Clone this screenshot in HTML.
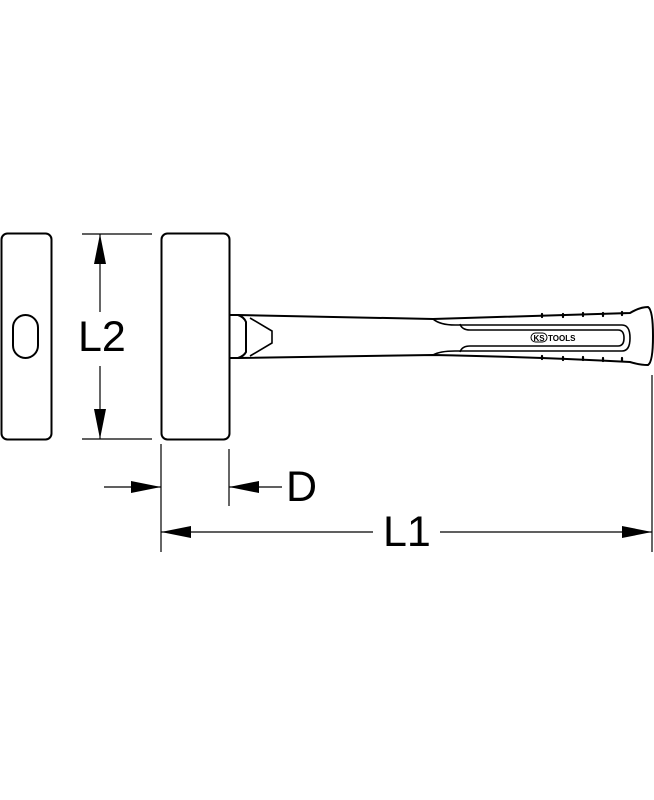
<!DOCTYPE html>
<html><head><style>html,body{margin:0;padding:0;background:#fff;}svg{display:block}</style></head>
<body>
<svg width="654" height="800" viewBox="0 0 654 800" xmlns="http://www.w3.org/2000/svg">
<g fill="none" stroke="#000" stroke-width="2">
<rect x="1.5" y="233.5" width="50" height="206" rx="6"/>
<rect x="13" y="315" width="25" height="43" rx="12.5"/>
<rect x="161.5" y="233.5" width="68" height="206" rx="6"/>
<!-- handle -->
<path d="M230,315 L238,315 Q244,317 246,322 L246,352 Q244,356 238,358 L230,358"/>
<path d="M238,315 L433,319 Q540,316 630,313 Q640,307 648,307 Q653,310 653,336 Q653,362 648,365 Q640,365 630,362 Q540,357 433,355 L238,358"/>
<path d="M250,318 L272,331 L272,343 L250,356" stroke-width="1.6"/>
<path d="M433,319 Q440,325 455,325 L622,325 Q630,325 630,338 Q630,351 622,351 L455,351 Q440,351 433,355" stroke-width="1.6"/>
<path d="M460,324 Q462,330 470,330 L618,330 Q624,330 624,338 Q624,346 618,346 L470,346 Q462,346 460,352" stroke-width="1.6"/>
</g>
<g stroke="#000" stroke-width="2.2" stroke-linecap="round">
<line x1="542" y1="314" x2="542" y2="317"/><line x1="563" y1="314" x2="563" y2="317"/><line x1="583" y1="313" x2="583" y2="316"/><line x1="603" y1="313" x2="603" y2="316"/><line x1="622" y1="312" x2="622" y2="315"/>
<line x1="542" y1="356" x2="542" y2="359"/><line x1="563" y1="357" x2="563" y2="360"/><line x1="583" y1="357" x2="583" y2="360"/><line x1="603" y1="358" x2="603" y2="361"/><line x1="622" y1="358" x2="622" y2="361"/>
</g>
<rect x="531" y="333" width="16" height="9" rx="4.5" fill="none" stroke="#000" stroke-width="1"/>
<text x="539" y="341" font-family="Liberation Sans, sans-serif" font-size="8" font-weight="bold" text-anchor="middle">KS</text>
<text x="548" y="341" font-family="Liberation Sans, sans-serif" font-size="8" font-weight="bold">TOOLS</text>
<!-- dimensions -->
<g stroke="#000" stroke-width="1.2" fill="none">
<line x1="82" y1="234" x2="152" y2="234"/><line x1="82" y1="439" x2="152" y2="439"/>
<line x1="100" y1="234" x2="100" y2="312"/><line x1="100" y1="366" x2="100" y2="439"/>
<line x1="161" y1="444" x2="161" y2="552"/><line x1="229" y1="449" x2="229" y2="506"/>
<line x1="104" y1="487" x2="161" y2="487"/><line x1="229" y1="487" x2="282" y2="487"/>
<line x1="161" y1="532" x2="373" y2="532"/><line x1="440" y1="532" x2="652" y2="532"/>
<line x1="652" y1="375" x2="652" y2="552"/>
</g>
<g fill="#000">
<polygon points="100,234 94,264 106,264"/><polygon points="100,439 94,409 106,409"/>
<polygon points="161,487 131,481 131,493"/><polygon points="229,487 259,481 259,493"/>
<polygon points="161,532 191,526 191,538"/><polygon points="652,532 622,526 622,538"/>
</g>
<g font-family="Liberation Sans, sans-serif" font-size="43" fill="#000">
<text x="78" y="351">L2</text>
<text x="286" y="501">D</text>
<text x="383" y="546">L1</text>
</g>
</svg>
</body></html>
